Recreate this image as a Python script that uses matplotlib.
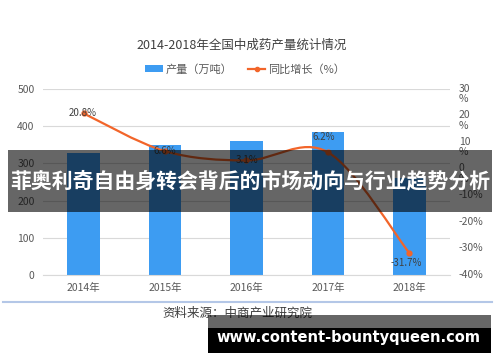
import matplotlib
matplotlib.use("Agg")
import matplotlib.pyplot as plt
from matplotlib.path import Path
from matplotlib.patches import PathPatch, Rectangle, Patch
from matplotlib.lines import Line2D
import matplotlib.transforms as mtransforms

plt.rcParams['font.family'] = ['Noto Sans CJK SC', 'DejaVu Sans']

years = ["2014年", "2015年", "2016年", "2017年", "2018年"]
output = [328, 350, 361, 383.5, 261.9]
growth = [20.8, 6.6, 3.1, 6.2, -31.7]
growth_labels = ["20.8%", "6.6%", "3.1%", "6.2%", "-31.7%"]
left_ticks = [0, 100, 200, 300, 400, 500]
right_ticks = [-40, -30, -20, -10, 0, 10, 20, 30]

title = "2014-2018年全国中成药产量统计情况"
legend_labels = ["产量（万吨）", "同比增长（%）"]
source = "资料来源：中商产业研究院"
banner = "菲奥利奇自由身转会背后的市场动向与行业趋势分析"
watermark = "www.content-bountyqueen.com"

BLUE = "#3D9CF2"
ORANGE = "#F2652A"
TICK = "#595959"
GRID = "#D9D9D9"

fig = plt.figure(figsize=(5, 3.62), dpi=100)
ax = fig.add_axes([0.086, 0.2403, 0.814, 0.5138])
ax2 = ax.twinx()

x = list(range(len(years)))
ax.bar(x, output, width=0.4, color=BLUE, zorder=2)
ax.set_xlim(-0.5, len(years) - 0.5)
ax.set_ylim(0, 500)
ax.set_yticks(left_ticks)
ax.grid(axis='y', color=GRID, lw=0.8, zorder=0)
ax.set_axisbelow(True)
for s in ["top", "right", "left"]:
    ax.spines[s].set_visible(False)
    ax2.spines[s].set_visible(False)
ax2.spines["bottom"].set_visible(False)
ax.spines["bottom"].set_color(GRID)
ax.spines["bottom"].set_linewidth(0.8)
ax.tick_params(axis='both', length=0, labelsize=7.5, labelcolor=TICK)
ax.tick_params(axis='y', pad=6)
ax.tick_params(axis='x', pad=6)
ax.set_xticks(x)
ax.set_xticklabels(years)

ax2.set_ylim(-40, 30)
ax2.set_yticks(right_ticks)
ax2.set_yticklabels([])
ax2.tick_params(axis='y', length=0)
trans = mtransforms.blended_transform_factory(ax2.transAxes, ax2.transData)
for v in right_ticks:
    if v >= 0:
        off = mtransforms.ScaledTranslation(0, 0.055, fig.dpi_scale_trans)
        ax2.text(1.022, v, f"{v}\n%", transform=trans + off, ha='left', va='top',
                 fontsize=7.5, color=TICK, linespacing=1.1)
    else:
        ax2.text(1.022, v, f"{v}%", transform=trans, ha='left', va='center',
                 fontsize=7.5, color=TICK)

# smoothed line (Catmull-Rom style Bezier through data points)
pts = list(zip(x, growth))
verts = [pts[0]]
codes = [Path.MOVETO]
n = len(pts)
for i in range(n - 1):
    p0 = pts[i - 1] if i > 0 else pts[i]
    p1 = pts[i]
    p2 = pts[i + 1]
    p3 = pts[i + 2] if i + 2 < n else pts[i + 1]
    c1 = (p1[0] + (p2[0] - p0[0]) / 6, p1[1] + (p2[1] - p0[1]) / 6)
    c2 = (p2[0] - (p3[0] - p1[0]) / 6, p2[1] - (p3[1] - p1[1]) / 6)
    verts += [c1, c2, p2]
    codes += [Path.CURVE4] * 3
ax2.add_patch(PathPatch(Path(verts, codes), fill=False, edgecolor=ORANGE, lw=1.6, zorder=3))
ax2.plot(x, growth, ls='none', marker='o', ms=3.5, color=ORANGE, zorder=4)

label_offsets = [(-1, 0), (0, 0), (0, 0), (-3, 11), (-2, -7)]
for xi, yi, lab, off in zip(x, growth, growth_labels, label_offsets):
    ax2.annotate(lab, (xi, yi), xytext=off, textcoords='offset points',
                 ha='center', va='center', fontsize=7, color="#404040", zorder=5)

fig.text(0.484, 0.876, title, ha='center', va='center', fontsize=9, color="#404040")

handles = [Patch(facecolor=BLUE, edgecolor='none'),
           Line2D([0], [0], color=ORANGE, lw=1.6, marker='o', ms=3)]
leg = fig.legend(handles, legend_labels, loc='center', bbox_to_anchor=(0.49, 0.809),
                 ncol=2, frameon=False, fontsize=8, handlelength=1.6, handleheight=0.5,
                 handletextpad=0.2, columnspacing=1.4)
for t in leg.get_texts():
    t.set_color(TICK)

# separator and source
fig.add_artist(Line2D([0.006, 0.984], [0.167, 0.167], color="#B4C7E7", lw=1.5))
fig.text(0.475, 0.135, source, ha='center', va='center', fontsize=9, color="#404040")

# overlays
fig.add_artist(Rectangle((0.016, 0.4144), 0.968, 0.1712, transform=fig.transFigure,
                         facecolor='black', alpha=0.6, edgecolor='none', zorder=10))
fig.text(0.5, 0.5, banner, ha='center', va='center', fontsize=15, color='white',
         fontweight='bold', zorder=11)
fig.add_artist(Rectangle((0.416, 0.0249), 0.566, 0.105, transform=fig.transFigure,
                         facecolor='black', alpha=0.6, edgecolor='none', zorder=10))
fig.add_artist(Rectangle((0.416, 0.0249), 0.566, 0.069, transform=fig.transFigure,
                         facecolor='black', edgecolor='none', zorder=10))
fig.text(0.697, 0.069, watermark, ha='center', va='center', fontsize=10.5, color='white',
         fontweight='bold', family='DejaVu Sans', zorder=11)

fig.savefig("out.png", dpi=100)
